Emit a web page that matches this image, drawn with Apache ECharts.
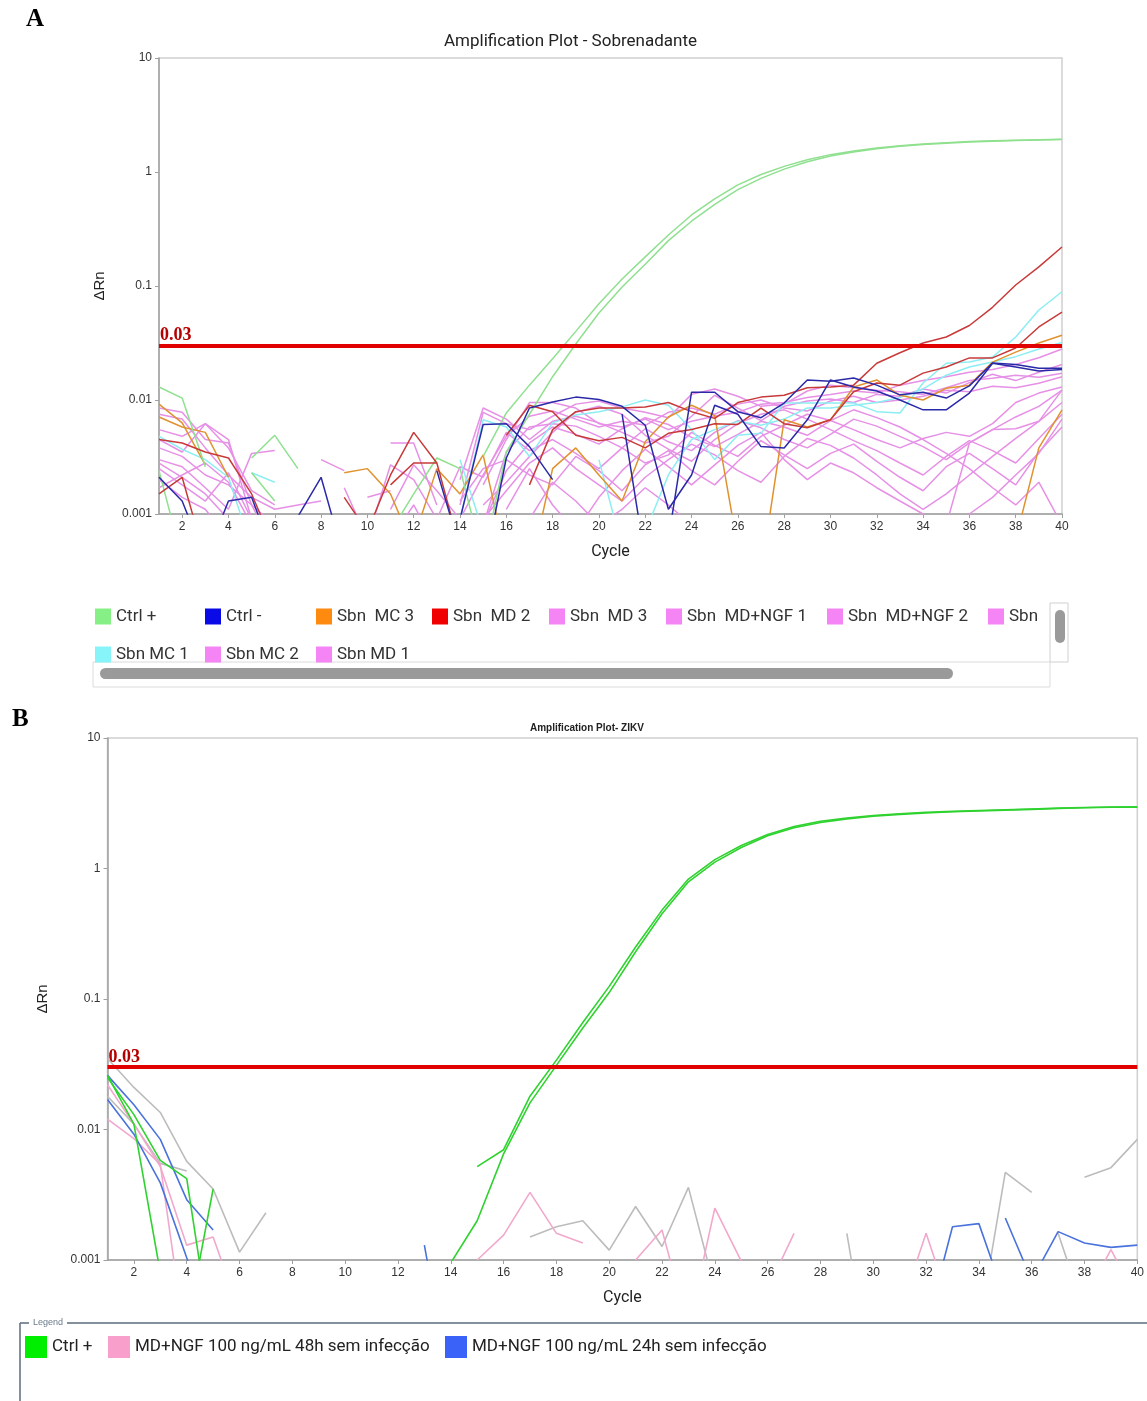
<!DOCTYPE html>
<html>
<head>
<meta charset="utf-8">
<script src="https://cdn.jsdelivr.net/npm/echarts@6/dist/echarts.min.js"></script>
<style>
html,body{margin:0;padding:0;background:#fff;}
#chart{width:1147px;height:1401px;}
</style>
</head>
<body>
<div id="chart"></div>
<script>
const _ = null;
const cycles = [1,2,3,4,5,6,7,8,9,10,11,12,13,14,15,16,17,18,19,20,21,22,23,24,25,26,27,28,29,30,31,32,33,34,35,36,37,38,39,40];
const cycleTicks = [2,4,6,8,10,12,14,16,18,20,22,24,26,28,30,32,34,36,38,40];
const yTicks = ['10','1','0.1','0.01','0.001'];
const threshold = 0.03;

// ---------- Panel A (Sobrenadante) ----------
const A_ctrlPos_1 = [0.013,0.0104,0.0026,_,0.0031,0.0049,0.0025,_,_,_,_,_,_,_,0.0032,0.0077,0.0135,0.023,0.04,0.07,0.115,0.18,0.28,0.42,0.58,0.77,0.95,1.12,1.28,1.42,1.53,1.62,1.7,1.76,1.81,1.85,1.88,1.9,1.92,1.94];
const A_ctrlPos_2 = [0.0024,0.0004,_,_,0.0023,0.0013,_,_,_,_,0.0007,0.0015,0.0031,0.0025,0.0004,0.0035,0.0075,0.016,0.031,0.058,0.098,0.155,0.25,0.37,0.52,0.7,0.88,1.06,1.23,1.38,1.5,1.6,1.68,1.74,1.79,1.83,1.86,1.89,1.91,1.93];
const A_ctrlNeg_1 = [0.0021,0.0013,0.0004,0.0013,0.0014,0.0004,0.00095,0.0021,0.0004,_,_,_,_,0.0009,0.0061,0.0062,0.0039,0.002,_,_,0.0075,0.0004,0.0006,0.0117,0.0117,0.0079,0.007,0.0094,0.015,0.0146,0.0156,0.0135,0.0111,0.0117,0.0104,0.0133,0.0211,0.0205,0.019,0.019];
const A_ctrlNeg_2 = [_,_,_,_,_,_,_,_,_,_,_,_,0.0024,0.0005,0.0003,0.0031,0.0085,0.0096,0.0106,0.0101,0.0088,0.006,0.0011,0.0022,0.009,0.0075,0.0039,0.0038,0.0067,0.015,0.013,0.012,0.01,0.0082,0.0082,0.0115,0.021,0.0195,0.018,0.0185];
const A_mc3_1 = [0.0092,0.0063,0.0027,_,_,_,_,_,0.0023,0.0025,0.0015,0.0005,_,_,_,_,_,_,_,_,_,_,_,_,_,_,0.0003,0.0067,0.0058,0.0067,0.013,0.015,0.011,0.01,0.0127,0.0135,0.0215,0.0263,0.0316,0.037];
const A_mc3_2 = [0.0071,0.0058,0.0052,0.0021,_,_,_,_,_,_,_,0.0006,0.0025,0.0015,0.0033,0.0004,0.0003,0.0025,0.0038,0.0022,0.0013,0.0043,0.0071,0.009,0.0073,0.0005,_,_,_,_,_,_,_,_,_,_,_,0.0006,0.0038,0.0082];
const A_md2_1 = [0.0045,0.0042,0.0035,0.0031,0.0015,0.0005,_,_,0.0014,0.0007,0.0022,0.0052,0.0028,0.0005,_,0.0049,0.009,0.0079,0.0049,0.0044,0.0047,0.0038,0.0051,0.0055,0.0062,0.0061,0.0085,0.0062,0.0057,0.0067,0.0118,0.0141,0.0135,0.0172,0.0195,0.0234,0.0234,0.0286,0.0437,0.059];
const A_md2_2 = [0.0015,0.0021,0.0004,_,_,_,_,_,_,_,0.0018,0.0028,0.0028,_,_,_,0.0018,0.0055,0.0079,0.0085,0.0085,0.0087,0.0095,0.0079,0.0069,0.0095,0.0106,0.011,0.0128,0.013,0.0135,0.021,0.026,0.0316,0.0357,0.045,0.065,0.102,0.147,0.22];
const A_mc1_1 = [0.0048,0.0037,0.003,0.0021,0.0005,_,_,_,_,_,_,_,_,0.003,0.0007,_,_,_,_,0.003,0.0005,0.0007,0.0022,0.0045,0.0055,0.0065,0.006,0.0068,0.0085,0.0085,0.009,0.0095,0.0105,0.0125,0.0165,0.0195,0.0215,0.024,0.028,0.032];
const A_mc1_2 = [_,_,_,_,0.0023,0.0019,_,_,_,_,_,_,_,0.0009,0.0067,0.0058,0.0032,0.0063,0.0074,0.0079,0.0087,0.01,0.009,0.0055,0.003,0.0049,0.0051,0.0094,0.0094,0.0094,0.0094,0.0079,0.0077,0.0141,0.021,0.0215,0.0238,0.0357,0.0616,0.089];
const A_md3_1 = [0.0085,0.0078,0.0045,0.0042,0.0012,0.0005,_,_,_,_,_,_,_,_,0.0018,0.0045,0.0095,0.0095,0.0085,0.0062,0.0058,0.0068,0.0055,0.0065,0.0072,0.0078,0.0092,0.0095,0.0105,0.0112,0.012,0.0115,0.0135,0.0148,0.016,0.0175,0.0185,0.0205,0.0235,0.028];
const A_md3_2 = [0.0075,0.0068,0.0038,0.0022,0.0014,0.0011,0.0012,0.0013,_,_,_,_,_,0.002,0.0085,0.0068,0.0045,0.0065,0.0072,0.0063,0.0052,0.0042,0.0048,0.0072,0.011,0.0085,0.0066,0.0088,0.0098,0.0102,0.0095,0.0112,0.0108,0.0125,0.0115,0.0142,0.0168,0.0148,0.0175,0.0205];
const A_ngf1_1 = [0.0055,0.0048,0.0062,0.0045,0.0009,_,_,0.003,0.0024,_,0.0042,0.0042,0.0012,_,0.0008,0.0035,0.0058,0.0062,0.0059,0.0048,0.0038,0.0028,0.0033,0.0052,0.004,0.0032,0.0048,0.006,0.0075,0.0066,0.0055,0.0045,0.0038,0.0046,0.0052,0.0048,0.0062,0.0095,0.0115,0.013];
const A_ngf1_2 = [0.003,0.0026,0.0017,0.0011,0.0034,0.0036,_,_,0.0017,0.0006,0.0027,0.002,0.0009,0.0026,0.0021,0.0052,0.0036,0.0045,0.0034,0.0025,0.0038,0.0056,0.0043,0.0036,0.0052,0.0066,0.0057,0.0045,0.0038,0.005,0.0068,0.0059,0.0048,0.0039,0.003,0.0042,0.0055,0.0071,0.0088,0.0122];
const A_ngf2_1 = [0.0025,0.0018,0.0013,0.0023,0.0009,_,_,_,_,0.0014,0.0016,_,_,0.0013,0.0025,0.003,0.0022,0.0018,0.0032,0.0024,0.0016,0.0027,0.0036,0.0024,0.0018,0.0029,0.0044,0.0033,0.0025,0.0034,0.0041,0.0029,0.0021,0.0016,0.0026,0.0034,0.0025,0.0018,0.0035,0.0058];
const A_ngf2_2 = [0.002,0.0014,0.0011,0.0006,_,_,_,_,_,_,0.0006,0.0012,0.0005,_,0.0012,0.0019,0.0032,0.0052,0.0078,0.0088,0.0075,0.0049,0.0037,0.0029,0.0045,0.0062,0.0075,0.0082,0.0068,0.0055,0.0044,0.0036,0.0028,0.0022,0.0032,0.0044,0.0036,0.0028,0.0046,0.0075];
const A_ngf3_1 = [0.0038,0.0032,0.0022,0.0018,0.0012,0.0008,_,_,_,_,_,_,_,_,0.0008,0.0024,0.0042,0.0058,0.005,0.0041,0.0056,0.007,0.0061,0.0047,0.0039,0.005,0.0065,0.0058,0.0049,0.0066,0.0082,0.007,0.0058,0.0045,0.0034,0.0025,0.0017,0.0012,0.0019,0.0008];
const A_ngf3_2 = [0.0017,0.0022,0.0028,0.0019,0.0008,_,_,_,_,_,_,_,_,_,0.0009,0.0016,0.0028,0.0038,0.0025,0.0018,0.0013,0.0021,0.003,0.0041,0.0033,0.0024,0.0019,0.0032,0.0046,0.004,0.0031,0.0022,0.0015,0.0011,0.0015,0.0022,0.0032,0.0046,0.0065,0.0095];
const A_mc2_1 = [0.0045,0.0035,0.0062,0.0038,0.0016,0.0012,_,_,_,_,_,_,_,0.0012,0.0078,0.0062,0.0055,0.0072,0.0092,0.0098,0.0085,0.0078,0.007,0.0112,0.0125,0.0108,0.0088,0.0092,0.012,0.0135,0.0128,0.0122,0.0118,0.0112,0.0128,0.0148,0.0155,0.0165,0.0158,0.0172];
const A_mc2_2 = [0.0028,0.0021,0.0015,0.0009,_,_,_,_,_,_,_,_,_,_,_,0.0011,0.0025,0.0012,0.0007,0.0014,0.0024,0.0037,0.0026,0.0018,0.0027,0.004,0.0052,0.003,0.002,0.0028,0.0023,0.0017,0.0013,0.001,0.0007,0.001,0.0014,0.0022,0.0034,0.0068];
const A_md1_1 = [_,_,_,_,_,_,_,_,_,_,0.0011,0.0027,0.0016,0.0009,0.0022,0.0048,0.0072,0.008,0.0068,0.0058,0.0065,0.006,0.0078,0.0085,0.0075,0.0092,0.01,0.0085,0.008,0.0098,0.0108,0.0095,0.01,0.0108,0.0122,0.0118,0.0132,0.0128,0.014,0.016];
const A_md1_2 = [_,_,_,_,_,_,_,_,_,_,_,_,_,_,_,_,0.0009,0.0019,0.0013,0.0008,0.0011,0.0017,0.0012,0.0008,_,_,_,_,_,_,_,_,_,0.0006,0.0008,0.0042,0.0055,0.0056,0.0065,0.0122];

// ---------- Panel B (ZIKV) ----------
const B_ctrlPos_1 = [0.026,0.011,0.0008,0.0003,0.0035,_,_,_,_,_,_,_,_,0.00095,0.002,0.0065,0.016,0.031,0.06,0.112,0.23,0.45,0.79,1.12,1.45,1.78,2.05,2.25,2.4,2.52,2.6,2.66,2.72,2.76,2.8,2.84,2.88,2.92,2.95,2.95];
const B_ctrlPos_2 = [0.025,0.013,0.0058,0.0042,0.0002,_,_,_,_,_,_,_,_,_,0.0052,0.007,0.018,0.034,0.066,0.125,0.25,0.48,0.83,1.17,1.5,1.82,2.1,2.3,2.44,2.55,2.63,2.7,2.74,2.78,2.82,2.86,2.9,2.93,2.96,2.97];
const B_ngf48_1 = [0.022,0.011,0.0052,0.0013,0.0015,0.0004,_,_,_,_,_,_,_,_,0.001,0.00155,0.0033,0.0016,0.00135,_,_,_,_,_,_,0.0006,0.0016,_,_,_,0.0004,0.0016,0.0004,_,_,_,_,0.0005,0.0012,0.0005];
const B_ngf48_2 = [0.012,0.0085,0.0054,0.0002,_,_,_,_,_,_,_,_,_,_,_,_,_,_,_,_,0.001,0.0017,0.0003,0.0025,0.00098,_,_,_,_,_,_,_,_,_,_,_,_,_,_,_];
const B_ngf24_1 = [0.017,0.0092,0.0039,0.00104,0.0003,_,_,_,_,_,_,_,0.0013,0.0001,_,_,_,_,_,_,_,_,_,_,_,_,_,_,_,_,_,0.0003,0.0018,0.0019,0.0005,_,_,_,_,_];
const B_ngf24_2 = [0.026,0.0155,0.0084,0.0029,0.0017,_,_,_,_,_,_,_,_,_,_,_,_,_,_,_,_,_,_,_,_,_,_,_,_,_,_,_,_,_,0.0021,0.0007,0.00165,0.00135,0.00125,0.0013];
const B_other_1 = [0.035,0.021,0.0135,0.0057,0.0035,0.00115,0.0023,_,_,_,_,_,_,_,_,_,0.0015,0.0018,0.002,0.00119,0.00257,0.00127,0.0036,0.0006,_,_,_,_,_,_,_,_,_,0.0003,0.0047,0.0033,_,_,_,_];
const B_other_2 = [0.018,0.011,0.0055,0.0048,_,_,_,_,_,_,_,_,_,_,_,_,_,_,_,_,_,_,_,_,_,_,_,_,0.0016,0.0001,_,_,_,_,_,_,0.0016,0.0004,_,_];
const B_other_3 = [_,_,_,_,_,_,_,_,_,_,_,_,_,_,_,_,_,_,_,_,_,_,_,_,_,_,_,_,_,_,_,_,_,_,_,_,_,0.0043,0.0051,0.0084];

// ---------- build ----------
function pts(arr){ return arr.map((v,i)=>[cycles[i], v]); }
const colA = {green:'#8fe08f', blue:'#2a2aa8', orange:'#e0922e', red:'#c83a3a', cyan:'#8ceef2', pink:'#e690e6'};
const colB = {green:'#2fd22f', pink:'#f2a8cc', blue:'#4a72dc', gray:'#bcbcbc'};

const seriesA = [
  ['Sbn  MD 3', colA.pink, A_md3_1], ['Sbn  MD 3', colA.pink, A_md3_2],
  ['Sbn  MD+NGF 1', colA.pink, A_ngf1_1], ['Sbn  MD+NGF 1', colA.pink, A_ngf1_2],
  ['Sbn  MD+NGF 2', colA.pink, A_ngf2_1], ['Sbn  MD+NGF 2', colA.pink, A_ngf2_2],
  ['Sbn  MD+NGF 3', colA.pink, A_ngf3_1], ['Sbn  MD+NGF 3', colA.pink, A_ngf3_2],
  ['Sbn MC 2', colA.pink, A_mc2_1], ['Sbn MC 2', colA.pink, A_mc2_2],
  ['Sbn MD 1', colA.pink, A_md1_1], ['Sbn MD 1', colA.pink, A_md1_2],
  ['Sbn MC 1', colA.cyan, A_mc1_1], ['Sbn MC 1', colA.cyan, A_mc1_2],
  ['Sbn  MC 3', colA.orange, A_mc3_1], ['Sbn  MC 3', colA.orange, A_mc3_2],
  ['Ctrl +', colA.green, A_ctrlPos_1], ['Ctrl +', colA.green, A_ctrlPos_2],
  ['Sbn  MD 2', colA.red, A_md2_1], ['Sbn  MD 2', colA.red, A_md2_2],
  ['Ctrl -', colA.blue, A_ctrlNeg_1], ['Ctrl -', colA.blue, A_ctrlNeg_2]
];
const seriesB = [
  ['Outro', colB.gray, B_other_1], ['Outro', colB.gray, B_other_2], ['Outro', colB.gray, B_other_3],
  ['MD+NGF 100 ng/mL 48h sem infecção', colB.pink, B_ngf48_1], ['MD+NGF 100 ng/mL 48h sem infecção', colB.pink, B_ngf48_2],
  ['MD+NGF 100 ng/mL 24h sem infecção', colB.blue, B_ngf24_1], ['MD+NGF 100 ng/mL 24h sem infecção', colB.blue, B_ngf24_2],
  ['Ctrl +', colB.green, B_ctrlPos_1], ['Ctrl +', colB.green, B_ctrlPos_2]
];

function mkSeries(list, idx, width){
  return list.map(s => ({
    type:'line', name:s[0], xAxisIndex:idx, yAxisIndex:idx,
    data: pts(s[2]), color:s[1], showSymbol:false, symbol:'none',
    lineStyle:{width:width, color:s[1]}, connectNulls:false, silent:true, clip:true,
    animation:false
  }));
}
function thresholdSeries(idx){
  return {
    type:'line', name:'threshold', xAxisIndex:idx, yAxisIndex:idx, data:[], silent:true, animation:false,
    markLine:{
      silent:true, symbol:['none','none'], animation:false,
      lineStyle:{color:'#e00000', width:4, type:'solid'},
      label:{show:true, position:'insideStartTop', formatter:String(threshold), distance:1,
        color:'#b40000', fontFamily:'Liberation Serif', fontWeight:'bold', fontSize:18},
      data:[{yAxis:threshold}]
    }
  };
}

function yFmt(v){ const s = String(parseFloat(v.toPrecision(1))); return yTicks.indexOf(s) >= 0 ? s : ''; }

function xAxisCfg(idx){
  return {
    type:'value', gridIndex:idx, min:1, max:40,
    axisLine:{show:true, lineStyle:{color:'#a0a0a0', width:1.5}},
    axisTick:{show:true, customValues:cycleTicks, length:4, lineStyle:{color:'#a0a0a0'}},
    axisLabel:{customValues:cycleTicks, color:'#333', fontSize:12, margin:7, fontFamily:'Liberation Sans'},
    splitLine:{show:false},
    name:'Cycle', nameLocation:'middle', nameGap:30,
    nameTextStyle:{color:'#222', fontSize:16, fontFamily:'Roboto'}
  };
}
function yAxisCfg(idx, gap){
  return {
    type:'log', logBase:10, gridIndex:idx, min:0.001, max:10,
    axisLine:{show:true, lineStyle:{color:'#a0a0a0', width:1.5}},
    axisTick:{show:true, length:4, lineStyle:{color:'#a0a0a0'}},
    minorTick:{show:false},
    axisLabel:{color:'#333', fontSize:12, margin:7, fontFamily:'Liberation Sans', formatter:yFmt},
    splitLine:{show:false},
    name:'ΔRn', nameLocation:'middle', nameGap:gap, nameRotate:90,
    nameTextStyle:{color:'#222', fontSize:15, fontFamily:'Liberation Sans'}
  };
}

// legend entries: [name, icon colour, left, top, max text width]
const legendA = [
  ['Ctrl +', '#86f086', 95, 608, 80],
  ['Ctrl -', '#0a0ae6', 205, 608, 80],
  ['Sbn  MC 3', '#ff8a10', 316, 608, 84],
  ['Sbn  MD 2', '#f00000', 432, 608, 84],
  ['Sbn  MD 3', '#f585f5', 549, 608, 84],
  ['Sbn  MD+NGF 1', '#f585f5', 666, 608, 130],
  ['Sbn  MD+NGF 2', '#f585f5', 827, 608, 130],
  ['Sbn  MD+NGF 3', '#f585f5', 988, 608, 33],
  ['Sbn MC 1', '#86f4f8', 95, 646, 80],
  ['Sbn MC 2', '#f585f5', 205, 646, 80],
  ['Sbn MD 1', '#f585f5', 316, 646, 84]
];
const legendB = [
  ['Ctrl +', '#00ee00', 25, 1336, 60],
  ['MD+NGF 100 ng/mL 48h sem infecção', '#f99fcc', 108, 1336, 320],
  ['MD+NGF 100 ng/mL 24h sem infecção', '#3a62f8', 445, 1336, 320]
];
function mkLegend(e, size, color){
  return {
    left:e[2], top:e[3], padding:0, itemWidth:size, itemHeight:size, itemGap:0, selectedMode:false, icon:'rect',
    textStyle:{fontSize:17, color:color, fontFamily:'Roboto', width:e[4], overflow:'truncate', ellipsis:''},
    data:[{name:e[0], icon:'rect', itemStyle:{color:e[1], borderWidth:0}}]
  };
}

const chart = echarts.init(document.getElementById('chart'), null, {renderer:'canvas'});
chart.setOption({
  animation:false,
  backgroundColor:'#fff',
  title:[
    {text:'Amplification Plot - Sobrenadante', left:439, top:28, textStyle:{fontSize:17, fontWeight:'normal', color:'#222', fontFamily:'Roboto'}},
    {text:'Amplification Plot- ZIKV', left:525, top:718, textStyle:{fontSize:10, fontWeight:'bold', color:'#222', fontFamily:'Liberation Sans'}}
  ],
  grid:[
    {left:159, right:85, top:58, bottom:887, show:true, borderColor:'#cfcfcf', borderWidth:1.5, containLabel:false},
    {left:107.5, right:7, top:738, bottom:141, show:true, borderColor:'#cfcfcf', borderWidth:1.5, containLabel:false}
  ],
  xAxis:[xAxisCfg(0), xAxisCfg(1)],
  yAxis:[yAxisCfg(0, 52), yAxisCfg(1, 57)],
  legend:[].concat(legendA.map(e => mkLegend(e, 16, '#333')), legendB.map(e => mkLegend(e, 22, '#222'))),
  graphic:[
    {type:'text', left:26, top:7, style:{text:'A', font:'bold 25px "Liberation Serif"', fill:'#000'}},
    {type:'text', left:12, top:707, style:{text:'B', font:'bold 25px "Liberation Serif"', fill:'#000'}},
    // legend A scroll decorations
    {type:'rect', shape:{x:93, y:662, width:957, height:25}, style:{fill:'#fff', stroke:'#dcdcdc', lineWidth:1}},
    {type:'rect', shape:{x:100, y:668, width:853, height:11, r:5.5}, style:{fill:'#9a9a9a'}},
    {type:'rect', shape:{x:1050, y:603, width:18, height:59}, style:{fill:'#fff', stroke:'#d0d0d0', lineWidth:1}},
    {type:'rect', shape:{x:1055, y:610, width:10, height:33, r:5}, style:{fill:'#9a9a9a'}},
    // legend B fieldset
    {type:'line', shape:{x1:20, y1:1323, x2:29, y2:1323}, style:{stroke:'#5b6b7b', lineWidth:1.5}},
    {type:'text', left:33, top:1318, style:{text:'Legend', font:'9px "Liberation Sans"', fill:'#6a7a8a'}},
    {type:'line', shape:{x1:67, y1:1323, x2:1147, y2:1323}, style:{stroke:'#5b6b7b', lineWidth:1.5}},
    {type:'line', shape:{x1:20, y1:1323, x2:20, y2:1401}, style:{stroke:'#5b6b7b', lineWidth:1.5}}
  ],
  series:[].concat(mkSeries(seriesA, 0, 1.5), [thresholdSeries(0)], mkSeries(seriesB, 1, 1.6), [thresholdSeries(1)])
});
</script>
</body>
</html>
